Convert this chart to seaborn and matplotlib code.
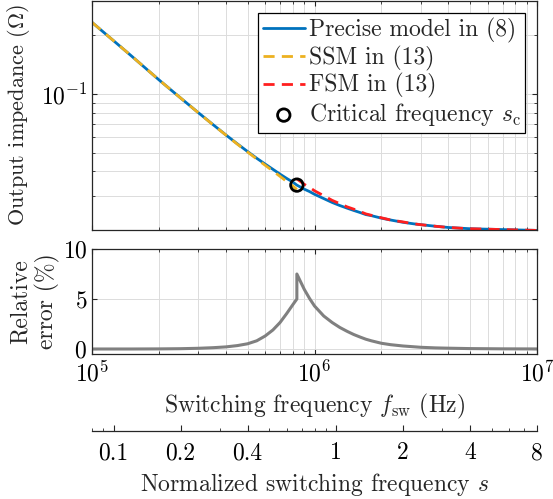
import matplotlib
matplotlib.use("Agg")
import matplotlib.pyplot as plt
import matplotlib.ticker as mticker
import pandas as pd
import seaborn as sns

# ---------------------------------------------------------------------------
# Data
# ---------------------------------------------------------------------------
# Switching frequency grid (Hz) and the precise output impedance (ohm)
freq_hz = [1e5, 1.5e5, 2e5, 2.5e5, 3e5, 3.5e5, 4e5, 4.5e5, 5e5, 5.5e5, 6e5, 6.5e5, 7e5,
           7.5e5, 8e5, 8.33e5, 9e5, 9.5e5, 1e6, 1.1e6, 1.2e6, 1.3e6, 1.4e6, 1.5e6, 1.6e6,
           1.7e6, 1.8e6, 2e6, 2.2e6, 2.5e6, 2.8e6, 3e6, 3.5e6, 4e6, 5e6, 7e6, 1e7]
z_precise = [0.233, 0.157, 0.118, 0.0953, 0.0802, 0.0695, 0.0615, 0.0554, 0.0506, 0.0467,
             0.0436, 0.0410, 0.0387, 0.0368, 0.0352, 0.0340, 0.0324, 0.0315, 0.0305,
             0.0290, 0.0277, 0.0267, 0.0259, 0.0252, 0.0246, 0.0240, 0.0237, 0.0230,
             0.0225, 0.0219, 0.0215, 0.0213, 0.0209, 0.0206, 0.0203, 0.0201, 0.0199]

# Slow-switching model (below the critical frequency)
freq_ssm = [1e5, 1.5e5, 2e5, 2.5e5, 3e5, 3.5e5, 4e5, 4.5e5, 5e5, 5.5e5, 6e5, 6.5e5, 7e5,
            7.5e5, 8e5, 8.33e5]
z_ssm = [0.233, 0.157, 0.118, 0.0953, 0.0801, 0.0694, 0.0614, 0.0552, 0.0503, 0.0463,
         0.0430, 0.0402, 0.0377, 0.0355, 0.0336, 0.0323]
err_ssm = [0.00, 0.00, 0.01, 0.03, 0.07, 0.13, 0.21, 0.34, 0.52, 0.82, 1.30, 1.90, 2.65,
           3.55, 4.45, 5.00]

# Fast-switching model (above the critical frequency)
freq_fsm = [8.33e5, 9e5, 9.5e5, 1e6, 1.1e6, 1.2e6, 1.3e6, 1.4e6, 1.5e6, 1.6e6, 1.7e6,
            1.8e6, 2e6, 2.2e6, 2.5e6, 2.8e6, 3e6, 3.5e6, 4e6, 5e6, 7e6, 1e7]
z_fsm = [0.0366, 0.0343, 0.0331, 0.0318, 0.0300, 0.0284, 0.0273, 0.0263, 0.0256, 0.0249,
         0.0242, 0.0238, 0.0231, 0.0225, 0.0220, 0.0215, 0.0213, 0.0209, 0.0206, 0.0203,
         0.0201, 0.0199]
err_fsm = [7.50, 5.95, 5.05, 4.30, 3.30, 2.65, 2.15, 1.77, 1.45, 1.20, 0.98, 0.82, 0.57,
           0.43, 0.30, 0.22, 0.17, 0.11, 0.08, 0.04, 0.015, 0.005]

# Critical frequency and normalisation base for s = f_sw / f_base
f_crit = 8.33e5
z_crit = 0.0340
f_base = 1.25e6

s_major = [0.1, 0.2, 0.4, 1, 2, 4, 8]
s_labels = ["0.1", "0.2", "0.4", "1", "2", "4", "8"]
s_minor = [0.08, 0.09, 0.3, 0.5, 0.6, 0.7, 0.8, 0.9, 3, 5, 6, 7]

# ---------------------------------------------------------------------------
# Style
# ---------------------------------------------------------------------------
sns.set_style("ticks")
plt.rcParams.update({
    "font.family": "serif",
    "font.serif": ["cmr10"],
    "mathtext.fontset": "cm",
    "axes.unicode_minus": False,
    "axes.formatter.use_mathtext": True,
    "font.size": 17,
    "axes.edgecolor": "#262626",
    "axes.linewidth": 0.9,
    "xtick.direction": "in",
    "ytick.direction": "in",
    "xtick.color": "#262626",
    "ytick.color": "#262626",
    "xtick.labelcolor": "black",
    "ytick.labelcolor": "black",
})

BLUE = "#0072BD"
YELLOW = "#EDB120"
RED = "#FF1F1F"
GREY = "#808080"
GRID = "#dcdcdc"
FS = 17

precise = pd.DataFrame({"f": freq_hz, "z": z_precise})
ssm = pd.DataFrame({"f": freq_ssm, "z": z_ssm, "err": err_ssm})
fsm = pd.DataFrame({"f": freq_fsm, "z": z_fsm, "err": err_fsm})
err = pd.concat([ssm, fsm], ignore_index=True)

fig = plt.figure(figsize=(5.53, 4.99), dpi=100)
ax1 = fig.add_axes([0.1664, 0.5391, 0.8047, 0.4589])
ax2 = fig.add_axes([0.1664, 0.2906, 0.8047, 0.2104])

# ---------------------------------------------------------------------------
# Output impedance
# ---------------------------------------------------------------------------
sns.lineplot(data=precise, x="f", y="z", ax=ax1, color=BLUE, linewidth=2.0,
             label="Precise model in (8)", estimator=None, sort=False)
sns.lineplot(data=ssm, x="f", y="z", ax=ax1, color=YELLOW, linewidth=2.0,
             linestyle=(0, (4, 2.6)), label="SSM in (13)", estimator=None, sort=False)
sns.lineplot(data=fsm, x="f", y="z", ax=ax1, color=RED, linewidth=2.0,
             linestyle=(0, (4, 2.6)), label="FSM in (13)", estimator=None, sort=False)
sns.scatterplot(x=[f_crit], y=[z_crit], ax=ax1, marker="o", s=80,
                facecolors="none", edgecolors="black", linewidths=2.0,
                label=r"Critical frequency $s_{\mathrm{c}}$", zorder=5)

ax1.set_xscale("log")
ax1.set_yscale("log")
ax1.set_xlim(1e5, 1e7)
ax1.set_ylim(0.02, 0.3)
ax1.set_xlabel("")
ax1.set_ylabel(r"Output impedance ($\Omega$)", fontsize=16)
ax1.yaxis.set_label_coords(-0.134, 0.5)
ax1.yaxis.set_major_locator(mticker.LogLocator(base=10))
ax1.yaxis.set_minor_locator(mticker.LogLocator(base=10, subs=range(2, 10)))
ax1.yaxis.set_minor_formatter(mticker.NullFormatter())
ax1.xaxis.set_minor_locator(mticker.LogLocator(base=10, subs=range(2, 10)))
ax1.tick_params(axis="x", which="both", labelbottom=False, top=True)
ax1.tick_params(axis="y", which="both", right=True, labelsize=FS)
ax1.tick_params(which="major", length=3.5, width=0.8)
ax1.tick_params(which="minor", length=2.0, width=0.6)
ax1.grid(True, which="both", color=GRID, linewidth=0.7)
ax1.set_axisbelow(True)

leg = ax1.legend(loc="upper right", frameon=True, fancybox=False, framealpha=1,
                 edgecolor="black", fontsize=FS, handlelength=1.8,
                 handletextpad=0.15, labelspacing=0.12, borderpad=0.2,
                 borderaxespad=0.5)
leg.get_frame().set_linewidth(0.9)

# ---------------------------------------------------------------------------
# Relative error
# ---------------------------------------------------------------------------
sns.lineplot(data=err, x="f", y="err", ax=ax2, color=GREY, linewidth=2.2,
             estimator=None, sort=False)
ax2.set_xscale("log")
ax2.set_xlim(1e5, 1e7)
ax2.set_ylim(-0.5, 10)
ax2.set_yticks([0, 5, 10])
ax2.set_ylabel("Relative\nerror (%)", fontsize=FS, linespacing=1.15)
ax2.yaxis.set_label_coords(-0.072, 0.5)
ax2.set_xlabel(r"Switching frequency $f_{\mathrm{sw}}$ (Hz)", fontsize=FS, labelpad=4)
ax2.xaxis.set_minor_locator(mticker.LogLocator(base=10, subs=range(2, 10)))
ax2.xaxis.set_minor_formatter(mticker.NullFormatter())
ax2.tick_params(axis="x", which="both", top=True)
ax2.tick_params(axis="y", which="both", right=True)
ax2.tick_params(which="major", length=3.5, width=0.8, labelsize=FS)
ax2.tick_params(which="minor", length=2.0, width=0.6)
ax2.tick_params(axis="x", which="major", pad=5)
ax2.grid(True, which="both", axis="x", color=GRID, linewidth=0.7)
ax2.grid(True, which="major", axis="y", color=GRID, linewidth=0.7)
ax2.set_axisbelow(True)

# ---------------------------------------------------------------------------
# Normalised frequency axis
# ---------------------------------------------------------------------------
sec = ax2.secondary_xaxis(-0.733, functions=(lambda f: f / f_base,
                                               lambda s: s * f_base))
sec.set_xticks(s_major, labels=s_labels)
sec.xaxis.set_minor_locator(mticker.FixedLocator(s_minor))
sec.xaxis.set_minor_formatter(mticker.NullFormatter())
sec.tick_params(which="major", direction="in", length=4, width=0.8, pad=8,
                labelsize=FS)
sec.tick_params(which="minor", direction="in", length=2.5, width=0.6)
sec.set_xlabel(r"Normalized switching frequency $s$", fontsize=FS, labelpad=5)

fig.savefig("out.png", dpi=100)
